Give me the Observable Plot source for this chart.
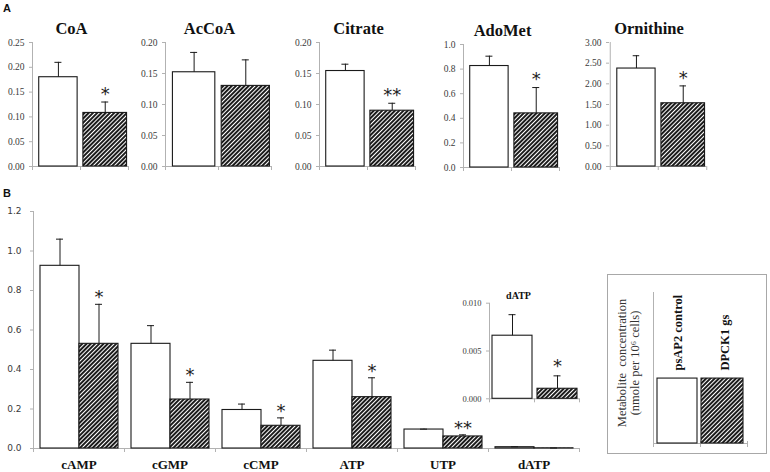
<!DOCTYPE html>
<html>
<head>
<meta charset="utf-8">
<script src="https://cdn.jsdelivr.net/npm/d3@7"></script>
<script src="https://cdn.jsdelivr.net/npm/@observablehq/plot@0.6"></script>
<style>
html, body { margin: 0; padding: 0; background: #fff; }
#root { position: relative; width: 770px; height: 472px; overflow: hidden; background: #fff; }
#root svg { display: block; }
#legendBox { position: absolute; left: 607px; top: 274px; width: 158px; height: 178px; border: 1px solid #a8a8a8; }
</style>
</head>
<body>
<div id="root">
  <svg width="0" height="0" style="position:absolute">
    <defs>
      <pattern id="hatch" patternUnits="userSpaceOnUse" width="3" height="3" patternTransform="rotate(45)">
        <rect width="3" height="3" fill="#1c1c1c"></rect>
        <line x1="1.5" y1="0" x2="1.5" y2="3" stroke="#ffffff" stroke-width="1.05"></line>
      </pattern>
    </defs>
  </svg>
  <div id="legendBox"></div>
</div>
<script>
// ---------------- data ----------------
const seriesNames = ["psAP2 control", "DPCK1 gs"];

// Panel A
const metabolitesA = ["CoA", "AcCoA", "Citrate", "AdoMet", "Ornithine"];
const controlA    = [0.180, 0.152, 0.154, 0.825, 2.37];
const controlErrA = [0.030, 0.032, 0.011, 0.080, 0.31];
const dpckA       = [0.108, 0.130, 0.090, 0.440, 1.53];
const dpckErrA    = [0.022, 0.042, 0.012, 0.210, 0.42];
const sigA        = ["*", "", "**", "*", "*"];
const yMaxA       = [0.25, 0.20, 0.20, 1.0, 3.0];
const yStepA      = [0.05, 0.05, 0.05, 0.2, 0.5];
const tickFormatA = [".2f", ".2f", ".2f", ".1f", ".2f"];

// Panel B
const nucleotidesB = ["cAMP", "cGMP", "cCMP", "ATP", "UTP", "dATP"];
const controlB     = [0.925, 0.530, 0.195, 0.444, 0.096, 0.0066];
const controlErrB  = [0.135, 0.092, 0.030, 0.054, 0.002, 0.0022];
const dpckB        = [0.530, 0.248, 0.115, 0.260, 0.061, 0.00105];
const dpckErrB     = [0.200, 0.087, 0.040, 0.098, 0.008, 0.00135];
const sigB         = ["*", "*", "*", "*", "**", "*"];
const yTicksB      = [0, 0.2, 0.4, 0.6, 0.8, 1.0, 1.2];
const insetCategory = "dATP";
const yTicksInset  = [0, 0.005, 0.010];

// Legend
const legendLevel = [0.43, 0.43];
const legendAxisTitle = "Metabolite  concentration\n(nmole per 10\u2076 cells)";

// ---------------- helpers ----------------
const root = document.getElementById("root");
const axisGray = "#b2b2b2";
const ink = "#1a1a1a";
const serif = "'Liberation Serif', 'Times New Roman', serif";
const sans = "'DejaVu Sans', Verdana, sans-serif";

function place(el, left, top) {
  el.style.position = "absolute";
  el.style.left = left + "px";
  el.style.top = top + "px";
  root.appendChild(el);
}

// bars + error bars + stars for the two series; ins = [[insetLeft, insetRight], ...] per series
function pairMarks(rows, bw, ins, star) {
  const marks = [];
  seriesNames.forEach((s, j) => {
    const d = rows.filter(r => r.series === s);
    const [l, r] = ins[j];
    const c = l + (bw - l - r) / 2;
    const dx = c - bw / 2;
    marks.push(Plot.barY(d, {x: "cat", y: "v", insetLeft: l, insetRight: r,
      fill: j ? "url(#hatch)" : "#ffffff", stroke: ink, strokeWidth: 1.1}));
    marks.push(Plot.ruleX(d, {x: "cat", y1: "v", y2: q => q.v + q.e, dx, stroke: ink, strokeWidth: 1}));
    marks.push(Plot.tickY(d, {x: "cat", y: q => q.v + q.e, insetLeft: c - 3.5, insetRight: bw - c - 3.5,
      stroke: ink, strokeWidth: 1}));
    marks.push(Plot.text(d.filter(q => q.sig), {x: "cat", y: q => q.v + q.e, text: "sig", dx, dy: star.dy,
      fontSize: star.size, fontFamily: sans, fill: "#222"}));
  });
  return marks;
}

// ---------------- Panel A ----------------
const layoutA = [
  {axis: 32,  right: 128, top: 42, base: 166},
  {axis: 165, right: 271, top: 42, base: 166},
  {axis: 319, right: 415, top: 42, base: 166},
  {axis: 463, right: 559, top: 44, base: 167},
  {axis: 609, right: 706, top: 42, base: 166}
];

metabolitesA.forEach((name, i) => {
  const L = layoutA[i];
  const mL = 34, mR = 4, H = 175;
  const W = L.right - L.axis + mL + mR;
  const bw = (L.right - L.axis) / 2;
  const rows = seriesNames.map((s, j) => ({
    cat: s, series: s,
    v: j ? dpckA[i] : controlA[i],
    e: j ? dpckErrA[i] : controlErrA[i],
    sig: j ? sigA[i] : ""
  }));
  const tk = 4 * yMaxA[i] / (L.base - L.top);
  const chart = Plot.plot({
    width: W, height: H,
    marginLeft: mL, marginRight: mR, marginTop: L.top, marginBottom: H - L.base,
    x: {domain: seriesNames, padding: 0, axis: null},
    y: {domain: [0, yMaxA[i]]},
    style: {background: "transparent", overflow: "visible", fontFamily: serif, fontSize: "9.5px"},
    marks: [
      Plot.axisY({ticks: d3.range(0, yMaxA[i] + 1e-9, yStepA[i]), tickFormat: d3.format(tickFormatA[i]),
        tickSize: 3, tickPadding: 5, stroke: axisGray, color: "#3a3a3a", fontSize: 9.5, fontFamily: serif, label: null}),
      Plot.ruleY([0], {stroke: axisGray}),
      Plot.ruleX([seriesNames[0]], {x: d => d, dx: -bw / 2, y1: 0, y2: yMaxA[i], stroke: axisGray}),
      Plot.ruleX(seriesNames, {x: d => d, dx: -bw / 2, y1: 0, y2: -tk, stroke: axisGray}),
      Plot.ruleX([seriesNames[1]], {x: d => d, dx: bw / 2, y1: 0, y2: -tk, stroke: axisGray}),
      ...pairMarks(rows, bw, [[0.14 * bw, 0.06 * bw], [0.06 * bw, 0.03 * bw]], {dy: -8, size: 18}),
      Plot.text([name], {text: d => d, frameAnchor: "top", lineAnchor: "bottom", dy: -9, dx: -9,
        fontSize: 16.5, fontWeight: "bold", fontFamily: serif, fill: "#111"})
    ]
  });
  place(chart, L.axis - mL, 0);
});

// ---------------- Panel B ----------------
const rowsB = nucleotidesB.flatMap((c, i) => seriesNames.map((s, j) => ({
  cat: c, series: s,
  v: j ? dpckB[i] : controlB[i],
  e: j ? dpckErrB[i] : controlErrB[i],
  sig: (j && c !== insetCategory) ? sigB[i] : ""
})));

{
  const top = 180, H = 292, W = 600;
  const mL = 33, mR = 21, mT = 31, mB = 24;
  const bw = (W - mL - mR) / nucleotidesB.length;
  const yMax = yTicksB[yTicksB.length - 1];
  const tk = 4 * yMax / (H - mT - mB);
  const last = nucleotidesB[nucleotidesB.length - 1];
  const chart = Plot.plot({
    width: W, height: H, marginLeft: mL, marginRight: mR, marginTop: mT, marginBottom: mB,
    x: {domain: nucleotidesB, padding: 0, axis: null},
    y: {domain: [0, yMax]},
    style: {background: "transparent", overflow: "visible", fontFamily: sans, fontSize: "9px"},
    marks: [
      Plot.axisY({ticks: yTicksB, tickFormat: d3.format(".1f"), tickSize: 3, tickPadding: 9,
        stroke: axisGray, color: "#3a3a3a", fontSize: 9, fontFamily: sans, label: null}),
      Plot.ruleY([0], {stroke: axisGray}),
      Plot.ruleX([nucleotidesB[0]], {x: d => d, dx: -bw / 2, y1: 0, y2: yMax, stroke: axisGray}),
      Plot.ruleX(nucleotidesB, {x: d => d, dx: -bw / 2, y1: 0, y2: -tk, stroke: axisGray}),
      Plot.ruleX([last], {x: d => d, dx: bw / 2, y1: 0, y2: -tk, stroke: axisGray}),
      ...pairMarks(rowsB, bw, [[7, 45], [46, 6]], {dy: -7, size: 18}),
      Plot.text(nucleotidesB, {x: d => d, text: d => d, frameAnchor: "bottom", lineAnchor: "bottom", dy: 20,
        fontSize: 13, fontWeight: "bold", fontFamily: serif, fill: "#111"})
    ]
  });
  place(chart, 0, top);
}

// ---------------- dATP inset ----------------
{
  const rows = rowsB.filter(r => r.cat === insetCategory).map((r, j) => ({
    cat: r.series, series: r.series, v: r.v, e: r.e, sig: j ? sigB[nucleotidesB.indexOf(insetCategory)] : ""
  }));
  const axis = 489, right = 579, yTop = 302.7, yBase = 398.3;
  const mL = 40, mR = 4, top = 270, H = 140;
  const W = right - axis + mL + mR;
  const bw = (right - axis) / 2;
  const yMax = yTicksInset[yTicksInset.length - 1];
  const tk = 4 * yMax / (yBase - yTop);
  const chart = Plot.plot({
    width: W, height: H, marginLeft: mL, marginRight: mR, marginTop: yTop - top, marginBottom: top + H - yBase,
    x: {domain: seriesNames, padding: 0, axis: null},
    y: {domain: [0, yMax]},
    style: {background: "transparent", overflow: "visible", fontFamily: serif, fontSize: "8.5px"},
    marks: [
      Plot.axisY({ticks: yTicksInset, tickFormat: d3.format(".3f"), tickSize: 3, tickPadding: 5,
        stroke: axisGray, color: "#3a3a3a", fontSize: 8.5, fontFamily: serif, label: null}),
      Plot.ruleY([0], {stroke: axisGray}),
      Plot.ruleX([seriesNames[0]], {x: d => d, dx: -bw / 2, y1: 0, y2: yMax, stroke: axisGray}),
      Plot.ruleX(seriesNames, {x: d => d, dx: -bw / 2, y1: 0, y2: -tk, stroke: axisGray}),
      Plot.ruleX([seriesNames[1]], {x: d => d, dx: bw / 2, y1: 0, y2: -tk, stroke: axisGray}),
      ...pairMarks(rows, bw, [[3, 2], [3, 2]], {dy: -10, size: 18}),
      Plot.text([insetCategory], {text: d => d, frameAnchor: "top", lineAnchor: "bottom", dy: -4, dx: -16,
        fontSize: 10, fontWeight: "bold", fontFamily: serif, fill: "#111"})
    ]
  });
  place(chart, axis - mL, top);
}

// ---------------- Legend ----------------
{
  const W = 160, H = 180, mL = 46, mR = 20, mT = 18, mB = 11;
  const bw = (W - mL - mR) / 2;
  const rows = seriesNames.map((s, j) => ({cat: s, series: s, v: legendLevel[j]}));
  const tk = 4 / (H - mT - mB);
  const chart = Plot.plot({
    width: W, height: H, marginLeft: mL, marginRight: mR, marginTop: mT, marginBottom: mB,
    x: {domain: seriesNames, padding: 0, axis: null},
    y: {domain: [0, 1], axis: null},
    style: {background: "transparent", overflow: "visible", fontFamily: serif},
    marks: [
      Plot.ruleY([0], {stroke: axisGray}),
      Plot.ruleX([seriesNames[0]], {x: d => d, dx: -bw / 2, y1: 0, y2: 1, stroke: axisGray}),
      Plot.ruleX(seriesNames, {x: d => d, dx: -bw / 2, y1: tk / 2, y2: -tk, stroke: axisGray}),
      Plot.ruleX([seriesNames[1]], {x: d => d, dx: bw / 2, y1: tk / 2, y2: -tk, stroke: axisGray}),
      Plot.barY(rows.slice(0, 1), {x: "cat", y: "v", insetLeft: 4, insetRight: 3, fill: "#fff", stroke: ink, strokeWidth: 1.1}),
      Plot.barY(rows.slice(1), {x: "cat", y: "v", insetLeft: 1, insetRight: 4, fill: "url(#hatch)", stroke: ink, strokeWidth: 1.1}),
      Plot.text(rows, {x: "cat", y: "v", text: "series", rotate: -90, textAnchor: "start", dy: -8, dx: 1,
        fontSize: 12.5, fontWeight: "bold", fontFamily: serif, fill: "#111"}),
      Plot.text([legendAxisTitle], {text: d => d, frameAnchor: "left", textAnchor: "middle", rotate: -90, dx: -25, dy: -5,
        lineHeight: 1.0, fontSize: 12.5, fontFamily: serif, fill: "#333"})
    ]
  });
  place(chart, 607, 274);
}

// ---------------- panel letters ----------------
{
  const ns = "http://www.w3.org/2000/svg";
  const svg = document.createElementNS(ns, "svg");
  svg.setAttribute("width", 770);
  svg.setAttribute("height", 472);
  svg.style.pointerEvents = "none";
  [["A", 3, 11.5], ["B", 3, 196.5]].forEach(([t, x, y]) => {
    const tx = document.createElementNS(ns, "text");
    tx.setAttribute("x", x);
    tx.setAttribute("y", y);
    tx.setAttribute("font-family", "'Liberation Sans', Arial, sans-serif");
    tx.setAttribute("font-weight", "bold");
    tx.setAttribute("font-size", "11");
    tx.setAttribute("fill", "#111");
    tx.textContent = t;
    svg.appendChild(tx);
  });
  place(svg, 0, 0);
}
</script>
</body>
</html>
